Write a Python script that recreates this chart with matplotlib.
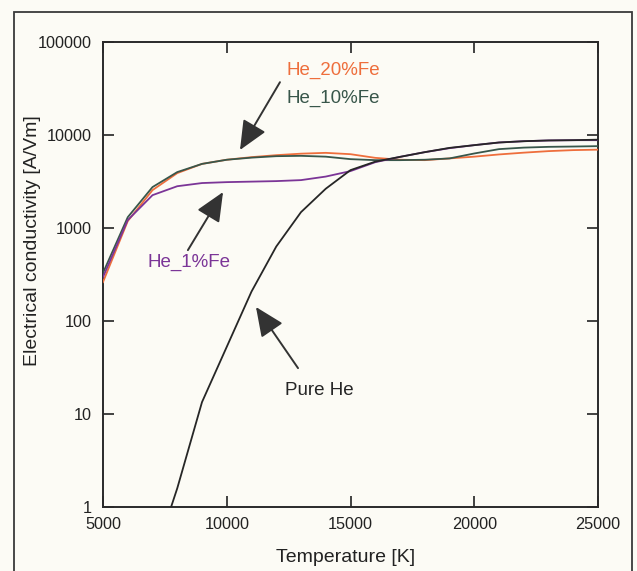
import matplotlib
matplotlib.use("Agg")
import matplotlib.pyplot as plt
from matplotlib.patches import Rectangle

plt.rcParams['font.family'] = ['Liberation Sans', 'DejaVu Sans']

# ---- data ----
temperature = [5000, 6000, 7000, 8000, 9000, 10000, 11000, 12000, 13000, 14000,
               15000, 16000, 17000, 18000, 19000, 20000, 21000, 22000, 23000, 24000, 25000]

he_20fe = [263, 1190, 2560, 3900, 4900, 5430, 5790, 6080, 6310, 6440,
           6230, 5690, 5430, 5375, 5610, 5860, 6190, 6470, 6720, 6890, 6970]
he_10fe = [330, 1310, 2760, 4000, 4900, 5430, 5720, 5930, 5980, 5860,
           5510, 5375, 5375, 5430, 5610, 6340, 7060, 7330, 7470, 7530, 7600]
he_1fe = [298, 1220, 2260, 2820, 3050, 3120, 3160, 3200, 3280, 3580,
          4100, 5110, 5830, 6550, 7230, 7790, 8320, 8590, 8750, 8810, 8810]
pure_he_T = [7000, 8000, 9000, 10000, 11000, 12000, 13000, 14000, 15000, 16000,
             17000, 18000, 19000, 20000, 21000, 22000, 23000, 24000, 25000]
pure_he = [0.25, 1.6, 13.5, 53, 208, 634, 1485, 2650, 4200, 5180,
           5830, 6550, 7280, 7790, 8320, 8590, 8750, 8810, 8920]

x_ticks = [5000, 10000, 15000, 20000, 25000]
x_tick_labels = ['5000', '10000', '15000', '20000', '25000']
y_ticks = [1, 10, 100, 1000, 10000, 100000]
y_tick_labels = ['1', '10', '100', '1000', '10000', '100000']

c_orange = '#ee6e3c'
c_green = '#38564a'
c_purple = '#7b3597'
c_black = '#262626'
c_arrow = '#333333'
bg = '#fcfbf5'

fig = plt.figure(figsize=(6.37, 5.71), dpi=100, facecolor=bg)
ax = fig.add_axes([103/637, 1-507.3/571, 495/637, 465.3/571], facecolor=bg)

ax.plot(temperature, he_20fe, color=c_orange, lw=1.3, zorder=3)
ax.plot(temperature, he_10fe, color=c_green, lw=1.3, zorder=3)
ax.plot(temperature, he_1fe, color=c_purple, lw=1.3, zorder=3)
ax.plot(pure_he_T, pure_he, color=c_black, lw=1.3, zorder=4)

ax.set_yscale('log')
ax.set_xlim(5000, 25000)
ax.set_ylim(1, 100000)
ax.set_xticks(x_ticks)
ax.set_xticklabels(x_tick_labels)
ax.set_yticks(y_ticks)
ax.set_yticklabels(y_tick_labels)
ax.minorticks_off()
ax.tick_params(axis='both', which='major', direction='in', length=8, width=1.2,
               top=True, right=True, labelsize=11.7, colors='#222222')
ax.tick_params(axis='y', pad=8)
ax.tick_params(axis='x', pad=7)
for s in ax.spines.values():
    s.set_linewidth(1.4)
    s.set_color('#2a2a2a')

fig.text(346/637, 1-557/571, 'Temperature [K]', ha='center', va='center',
         fontsize=14, color='#222222')
fig.text(33/637, 1-241/571, 'Electrical conductivity [A/Vm]', ha='center', va='center',
         rotation=90, fontsize=14, color='#222222')

# annotations
ax.text(12430, 49800, 'He_20%Fe', color=c_orange, fontsize=13.5, ha='left', va='center')
ax.text(12430, 24850, 'He_10%Fe', color=c_green, fontsize=13.5, ha='left', va='center')
ax.text(6780, 431, 'He_1%Fe', color=c_purple, fontsize=13.5, ha='left', va='center')
ax.text(12350, 18.2, 'Pure He', color=c_black, fontsize=13.5, ha='left', va='center')

ap = dict(arrowstyle='-|>,head_length=0.9,head_width=0.4', lw=1.4, color=c_arrow,
          shrinkA=0, shrinkB=0, mutation_scale=20)
ax.annotate('', xy=(10535, 6910), xytext=(12150, 37000), arrowprops=ap)
ax.annotate('', xy=(9850, 2440), xytext=(8430, 580), arrowprops=ap)
ax.annotate('', xy=(11180, 142), xytext=(12880, 31.3), arrowprops=ap)

# outer frame
fig.patches.append(Rectangle((14/637, -0.02), (632-14)/637, 1-12/571+0.02,
                             transform=fig.transFigure, fill=False,
                             edgecolor='#3a3a3a', lw=1.3))

fig.savefig('out.png', dpi=100, facecolor=bg)
